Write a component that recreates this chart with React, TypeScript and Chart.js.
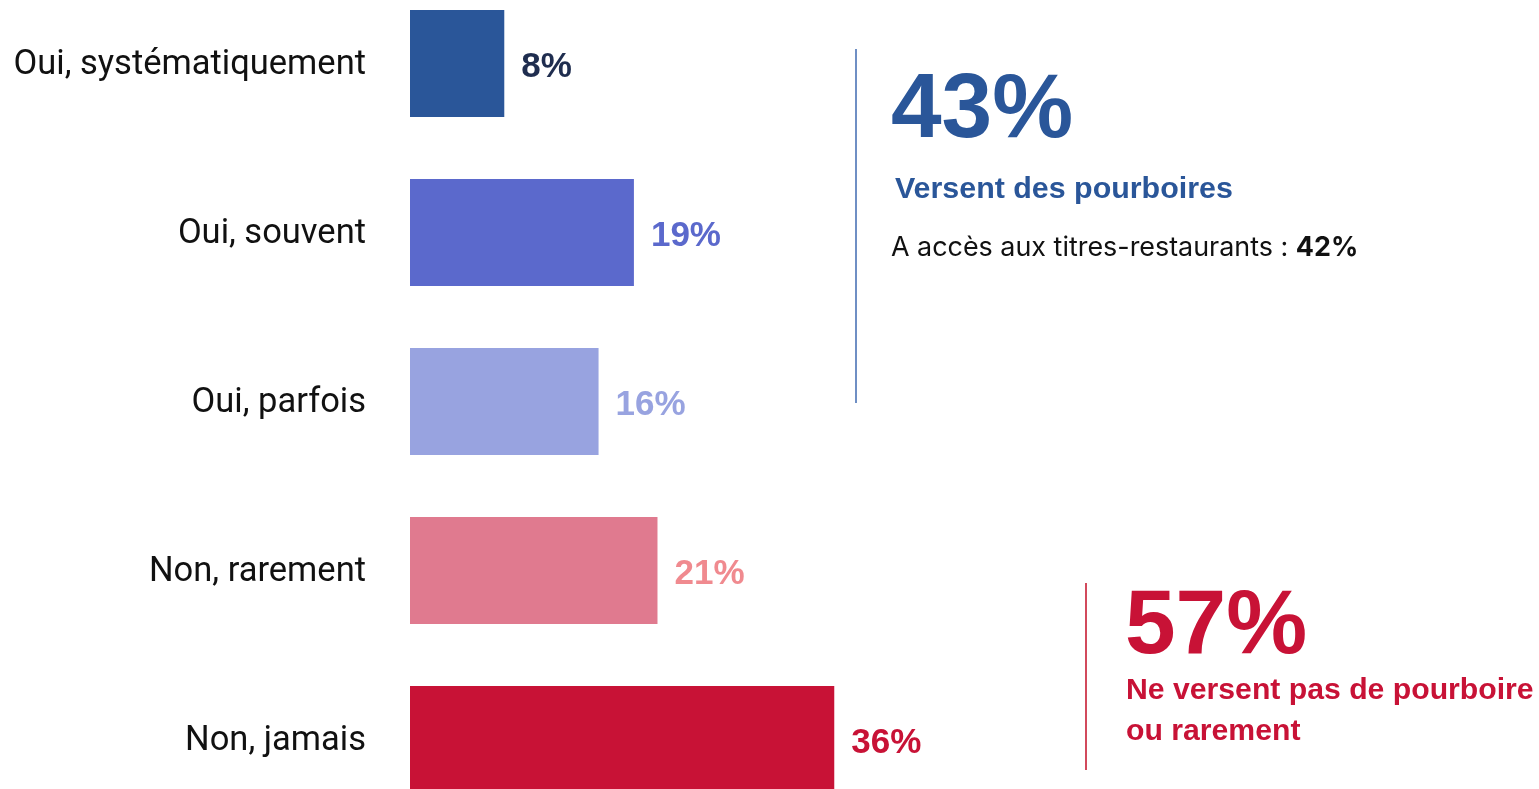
import React, { useEffect, useRef } from "react";
import { Chart, registerables } from "chart.js";

Chart.register(...registerables);

const categories = [
  "Oui, systématiquement",
  "Oui, souvent",
  "Oui, parfois",
  "Non, rarement",
  "Non, jamais",
];
const values = [8, 19, 16, 21, 36];
const barColors = ["#2a5699", "#5b69cc", "#98a3e0", "#e07a8f", "#c81236"];
const valueLabelColors = ["#1f2d4f", "#5b69cc", "#98a3e0", "#f08a8f", "#c81236"];

const valueLabelPlugin = {
  id: "valueLabels",
  afterDatasetsDraw(chart: any) {
    const { ctx } = chart;
    const meta = chart.getDatasetMeta(0);
    ctx.save();
    ctx.font = "bold 35px 'Liberation Sans', Arial, sans-serif";
    ctx.textBaseline = "alphabetic";
    ctx.textAlign = "left";
    meta.data.forEach((bar: any, i: number) => {
      ctx.fillStyle = valueLabelColors[i];
      ctx.fillText(values[i] + "%", bar.x + 17, bar.y + 13.5);
    });
    ctx.restore();
  },
};

export default function App() {
  const canvasRef = useRef<HTMLCanvasElement | null>(null);

  useEffect(() => {
    if (!canvasRef.current) return;
    const chart = new Chart(canvasRef.current, {
      type: "bar",
      data: {
        labels: categories,
        datasets: [
          {
            data: values,
            backgroundColor: barColors,
            borderWidth: 0,
            barPercentage: 0.633,
            categoryPercentage: 1,
          },
        ],
      },
      options: {
        indexAxis: "y",
        animation: false,
        responsive: false,
        maintainAspectRatio: false,
        layout: { padding: 0 },
        plugins: {
          legend: { display: false },
          tooltip: { enabled: false },
        },
        scales: {
          x: {
            display: false,
            min: 0,
            max: 95.8,
          },
          y: {
            grid: { display: false, drawTicks: false },
            border: { display: false },
            ticks: {
              color: "#111111",
              padding: 44,
              labelOffset: 2,
              font: { family: "Roboto", size: 34.5 },
            },
            afterFit(scale: any) {
              scale.width = 410;
              scale.paddingTop = 0;
              scale.paddingBottom = 0;
            },
          },
        },
      },
      plugins: [valueLabelPlugin],
    });
    return () => chart.destroy();
  }, []);

  return (
    <div
      style={{
        position: "fixed",
        left: 0,
        top: 0,
        width: 1539,
        height: 789,
        overflow: "hidden",
        background: "#ffffff",
      }}
    >
      <canvas
        ref={canvasRef}
        width={1539}
        height={845}
        style={{ position: "absolute", left: 0, top: -21, width: 1539, height: 845 }}
      />
      <div
        style={{
          position: "absolute",
          left: 855,
          top: 49,
          width: 2,
          height: 354,
          background: "#6f8fc4",
        }}
      />
      <div
        style={{
          position: "absolute",
          left: 891,
          top: 56,
          fontFamily: "'Liberation Sans', Arial, sans-serif",
          fontWeight: 700,
          fontSize: 91,
          lineHeight: "100px",
          color: "#2a5699",
          whiteSpace: "nowrap",
        }}
      >
        43%
      </div>
      <div
        style={{
          position: "absolute",
          left: 895,
          top: 170,
          fontFamily: "'Liberation Sans', Arial, sans-serif",
          fontWeight: 700,
          fontSize: 30.4,
          lineHeight: "34px",
          color: "#2a5699",
          whiteSpace: "nowrap",
        }}
      >
        Versent des pourboires
      </div>
      <div
        style={{
          position: "absolute",
          left: 891,
          top: 229,
          fontFamily: "Inter, sans-serif",
          fontSize: 26.9,
          lineHeight: "34px",
          color: "#111111",
          whiteSpace: "nowrap",
        }}
      >
        A accès aux titres-restaurants : <b>42%</b>
      </div>
      <div
        style={{
          position: "absolute",
          left: 1085,
          top: 583,
          width: 2,
          height: 187,
          background: "#d24a5c",
        }}
      />
      <div
        style={{
          position: "absolute",
          left: 1125,
          top: 572,
          fontFamily: "'Liberation Sans', Arial, sans-serif",
          fontWeight: 700,
          fontSize: 91,
          lineHeight: "100px",
          color: "#c81236",
          whiteSpace: "nowrap",
        }}
      >
        57%
      </div>
      <div
        style={{
          position: "absolute",
          left: 1126,
          top: 668,
          fontFamily: "'Liberation Sans', Arial, sans-serif",
          fontWeight: 700,
          fontSize: 30.2,
          lineHeight: "41px",
          color: "#c81236",
          whiteSpace: "nowrap",
        }}
      >
        Ne versent pas de pourboire
        <br />
        ou rarement
      </div>
    </div>
  );
}
